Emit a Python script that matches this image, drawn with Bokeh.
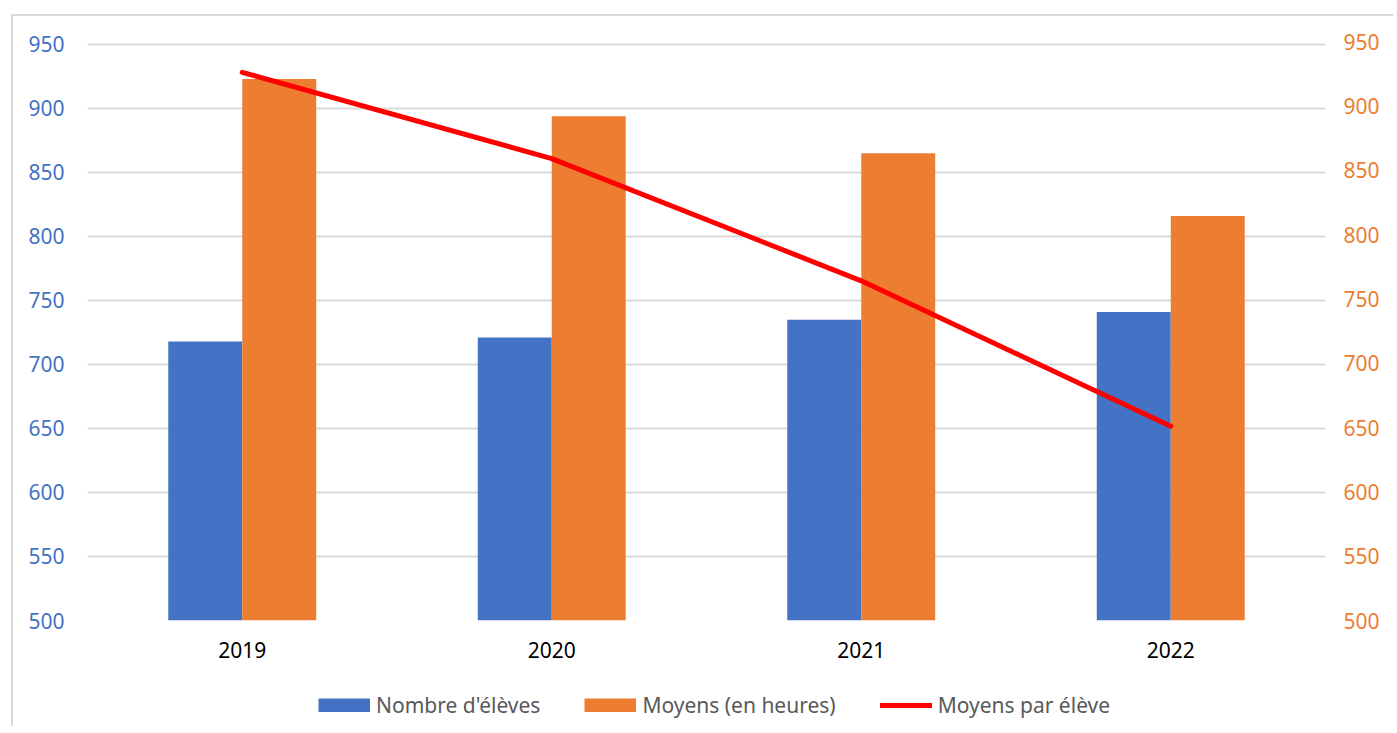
from bokeh.plotting import figure
from bokeh.models import (FactorRange, Range1d, LinearAxis, FixedTicker, Legend,
                          LegendItem, ColumnDataSource)
from bokeh.layouts import column
from bokeh.transform import dodge
from bokeh.embed import file_html
from bokeh.resources import INLINE

# ---- data ----
years = ["2019", "2020", "2021", "2022"]
nombre_eleves = [718, 721, 735, 741]
moyens_heures = [923, 894, 865, 816]
moyens_par_eleve = [926, 859, 764, 651]
tick_values = [500, 550, 600, 650, 700, 750, 800, 850, 900, 950]
series_labels = ["Nombre d'élèves", "Moyens (en heures)", "Moyens par élève"]

BLUE = "#4472C4"
ORANGE = "#ED7D31"
RED = "#FF0000"
GRID = "#D9D9D9"
FONT = "Noto Sans"
W = 1380

src = ColumnDataSource(dict(years=years, eleves=nombre_eleves,
                            heures=moyens_heures, par_eleve=moyens_par_eleve))

p = figure(x_range=FactorRange(factors=years, range_padding=0),
           y_range=Range1d(500, 952.3),
           width=W, height=660, output_backend="svg", toolbar_location=None,
           min_border_left=74, min_border_right=68, min_border_top=25,
           min_border_bottom=56)
p.outline_line_color = None
p.extra_y_ranges = {"right": Range1d(500, 950)}

bw = 0.239
bar_kw = dict(width=bw, bottom=500, line_color=None)
r1 = p.vbar(x=dodge("years", -bw / 2, range=p.x_range), top="eleves",
            source=src, fill_color=BLUE, **bar_kw)
r2 = p.vbar(x=dodge("years", bw / 2, range=p.x_range), top="heures",
            source=src, fill_color=ORANGE, **bar_kw)
line_kw = dict(line_color=RED, line_width=5, line_cap="round", line_join="round")
r3 = p.line(x="years", y="par_eleve", source=src, y_range_name="right", **line_kw)

# axes
def style_axis(ax, color, standoff):
    ax.axis_line_color = None
    ax.major_tick_line_color = None
    ax.minor_tick_line_color = None
    ax.major_tick_out = 0
    ax.major_tick_in = 0
    ax.major_label_standoff = standoff
    ax.major_label_text_color = color
    ax.major_label_text_font = FONT
    ax.major_label_text_font_size = "21px"

p.yaxis.ticker = FixedTicker(ticks=tick_values)
style_axis(p.yaxis[0], BLUE, 23)

ra = LinearAxis(y_range_name="right", ticker=FixedTicker(ticks=tick_values))
style_axis(ra, ORANGE, 18)
p.add_layout(ra, "right")

style_axis(p.xaxis[0], "#000000", 21)

p.xgrid.grid_line_color = None
p.ygrid.grid_line_color = GRID
p.ygrid.grid_line_width = 2
p.ygrid.ticker = FixedTicker(ticks=tick_values)

# legend in a strip below the chart (its frame is aligned with the chart's frame)
lf = figure(width=W, height=50, output_backend="svg", toolbar_location=None,
            x_range=Range1d(0, 1), y_range=Range1d(0, 1),
            min_border_left=0, min_border_right=0, min_border_top=0,
            min_border_bottom=0)
lf.axis.visible = False
lf.grid.visible = False
lf.outline_line_color = None
hidden = ColumnDataSource(dict(x=[-10, -9], y=[-10, -10]))
swatch_kw = dict(line_width=14, line_cap="butt")
l1 = lf.line(x="x", y="y", source=hidden, line_color=BLUE, **swatch_kw)
l2 = lf.line(x="x", y="y", source=hidden, line_color=ORANGE, **swatch_kw)
l3 = lf.line(x="x", y="y", source=hidden, **line_kw)

legend = Legend(items=[LegendItem(label=series_labels[0], renderers=[l1]),
                       LegendItem(label=series_labels[1], renderers=[l2]),
                       LegendItem(label=series_labels[2], renderers=[l3])],
                location=(231, 7), orientation="horizontal",
                glyph_width=52, glyph_height=14, label_standoff=6,
                padding=0, margin=0, spacing=44,
                border_line_color=None, background_fill_alpha=0,
                label_text_font=FONT, label_text_font_size="21px",
                label_text_color="#595959")
lf.add_layout(legend, "center")

layout = column(p, lf, spacing=0)
layout.styles = {"margin-left": "11px", "margin-top": "14px",
                 "border-left": "2px solid #D9D9D9", "border-top": "2px solid #D9D9D9"}

open("out.html", "w").write(file_html(layout, INLINE))
